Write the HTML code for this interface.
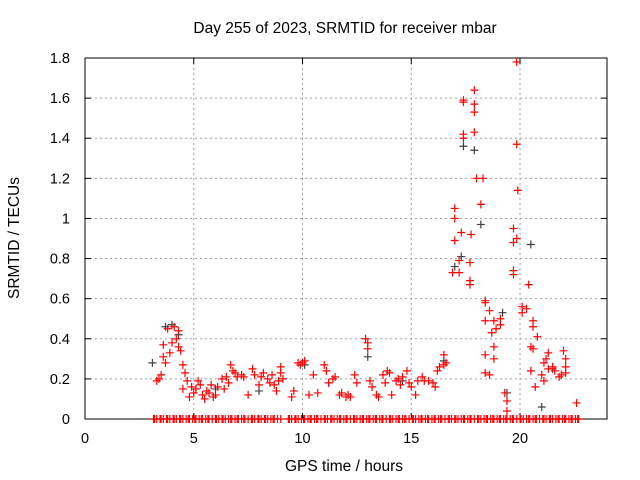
<!DOCTYPE html>
<html><head><meta charset="utf-8"><style>
body{margin:0;background:#fff}
svg{display:block;font-family:"Liberation Sans",sans-serif}
</style></head><body>
<svg id="chart" width="640" height="480">
<text x="345" y="33" font-size="15.5" text-anchor="middle">Day 255 of 2023, SRMTID for receiver mbar</text>
<text x="344" y="471" font-size="15.5" text-anchor="middle">GPS time / hours</text>
<text transform="translate(19,238) rotate(-90)" font-size="15.5" text-anchor="middle">SRMTID / TECUs</text>
<g id="grid"></g><g id="axes"></g><g id="gray"></g><g id="red"></g>
</svg>
<script>
const xTicks=[0,5,10,15,20];
const yTicks=[0,0.2,0.4,0.6,0.8,1,1.2,1.4,1.6,1.8];
const yTickLabels=["0","0.2","0.4","0.6","0.8","1","1.2","1.4","1.6","1.8"];
const redT=[3.3,3.4,3.5,3.6,3.6,3.7,3.8,3.9,4.0,4.1,4.2,4.3,4.3,4.4,4.5,4.5,4.6,4.7,4.8,4.9,5.0,5.1,5.2,5.3,5.4,5.5,5.6,5.7,5.8,5.9,6.0,6.1,6.3,6.4,6.5,6.6,6.7,6.8,6.9,7.0,7.2,7.3,7.5,7.7,7.8,8.0,8.1,8.2,8.4,8.5,8.6,8.7,8.8,8.9,9.0,9.0,9.1,9.5,9.6,9.8,9.9,10.0,10.1,10.3,10.5,10.7,11.0,11.1,11.2,11.4,11.5,11.7,11.8,12.0,12.1,12.2,12.4,12.5,12.9,13.0,13.0,13.1,13.2,13.4,13.5,13.7,13.8,13.9,14.0,14.1,14.3,14.4,14.5,14.6,14.8,14.9,15.0,15.2,15.3,15.5,15.6,15.8,16.0,16.1,16.2,16.3,16.5,16.5,16.6,
17.0,17.0,17.3,17.0,17.75,18.0,18.3,18.2,17.4,17.4,17.9,17.4,17.4,17.9,17.9,17.9,19.85,19.85,19.9,19.7,19.7,19.85,
16.9,17.2,17.2,17.7,17.7,17.7,19.7,19.7,20.4,
18.4,18.4,18.4,18.6,18.7,18.8,18.9,19.1,19.1,20.1,20.1,20.3,20.6,20.6,
18.4,18.8,18.8,20.5,20.6,20.8,21.1,21.2,21.3,22.0,22.1,
18.4,18.6,19.3,19.4,19.4,20.5,20.7,21.0,21.1,21.3,21.5,21.6,21.8,21.9,22.1,22.1,22.6];
const redV=[0.19,0.2,0.22,0.37,0.31,0.28,0.45,0.33,0.38,0.46,0.40,0.44,0.36,0.34,0.27,0.15,0.23,0.19,0.11,0.16,0.13,0.15,0.19,0.17,0.12,0.10,0.14,0.13,0.17,0.11,0.12,0.16,0.20,0.15,0.21,0.18,0.27,0.24,0.23,0.21,0.22,0.21,0.12,0.25,0.22,0.17,0.21,0.23,0.20,0.18,0.22,0.17,0.14,0.19,0.26,0.23,0.20,0.11,0.14,0.28,0.27,0.28,0.29,0.12,0.22,0.13,0.27,0.24,0.18,0.2,0.21,0.12,0.13,0.11,0.12,0.11,0.22,0.18,0.40,0.38,0.35,0.19,0.16,0.12,0.11,0.22,0.18,0.24,0.23,0.12,0.19,0.20,0.17,0.21,0.24,0.18,0.16,0.12,0.19,0.21,0.19,0.19,0.18,0.16,0.24,0.26,0.32,0.27,0.28,
1.05,1.0,0.93,0.89,0.92,1.2,1.2,1.07,1.42,1.40,1.43,1.59,1.58,1.64,1.57,1.53,1.78,1.37,1.14,0.95,0.88,0.9,
0.73,0.73,0.79,0.78,0.69,0.67,0.74,0.72,0.67,
0.59,0.58,0.49,0.54,0.43,0.49,0.45,0.50,0.47,0.56,0.53,0.55,0.49,0.46,
0.32,0.36,0.30,0.36,0.35,0.41,0.28,0.30,0.33,0.34,0.30,
0.23,0.22,0.13,0.09,0.04,0.24,0.16,0.22,0.19,0.25,0.26,0.24,0.21,0.22,0.26,0.23,0.08];
const grayT=[3.1,3.7,4.0,4.3,6.0,8.0,10.1,13.0,14.6,17.3,17.4,17.9,18.2,19.2,19.4,20.5,21.0,21.5,16.5,17.0];
const grayV=[0.28,0.46,0.47,0.42,0.15,0.14,0.27,0.31,0.19,0.81,1.36,1.34,0.97,0.53,0.13,0.87,0.06,0.25,0.29,0.76];
const zeroT=[3.15,3.3,3.45,3.6,3.75,3.9,4.05,4.2,4.35,4.5,4.65,4.8,4.95,5.1,5.25,5.4,5.55,5.7,5.85,6.0,6.15,6.3,6.45,6.6,6.75,6.9,7.05,7.2,7.35,7.5,7.65,7.8,7.95,8.1,8.25,8.4,8.55,8.7,8.85,9.0,9.35,9.5,9.65,9.8,9.95,10.1,10.25,10.4,10.55,10.7,10.85,11.0,11.15,11.3,11.45,11.6,11.75,11.9,12.05,12.2,12.35,12.5,12.65,12.8,12.95,13.1,13.25,13.4,13.55,13.7,13.85,14.0,14.15,14.3,14.45,14.6,14.75,14.9,15.05,15.2,15.35,15.5,15.65,15.8,15.95,16.1,16.25,16.4,16.55,16.7,16.85,17.0,17.15,17.3,17.45,17.6,17.75,17.9,18.05,18.2,18.35,18.5,18.65,18.8,18.95,19.1,19.25,19.4,19.55,19.7,19.85,20.0,20.15,20.3,20.45,20.6,20.75,20.9,21.05,21.2,21.35,21.5,21.65,21.8,21.95,22.1,22.25,22.4,22.55,22.7];
const zeroT2=[3.2,3.5,3.8,4.1,4.4,4.75,5.05,5.35,5.65,6.05,6.35,6.7,7.0,7.3,7.7,8.0,8.3,8.65,9.4,9.7,10.05,10.35,10.65,11.05,11.35,11.7,12.0,12.4,12.75,13.05,13.35,13.65,14.05,14.4,14.7,15.1,15.45,15.75,16.05,16.35,16.75,17.05,17.4,17.7,18.1,18.45,18.75,19.05,19.35,19.65,20.05,20.4,20.7,21.1,21.4,21.75,22.05,22.35,22.65];
const L=85,R=607,T=58,B=419,XMAX=24,YMAX=1.8;
const X=t=>L+t/XMAX*(R-L), Y=v=>B-v/YMAX*(B-T);
const NS="http://www.w3.org/2000/svg";
function mk(p,tag,a){const e=document.createElementNS(NS,tag);for(const k in a)e.setAttribute(k,a[k]);p.appendChild(e);return e;}
const grid=document.getElementById('grid'),axes=document.getElementById('axes');
xTicks.forEach(t=>{
 if(t>0){const g=mk(grid,'line',{x1:X(t),x2:X(t),y1:T,y2:B,stroke:'#a0a0a0','stroke-dasharray':'2,3'});
 }
 mk(axes,'line',{x1:X(t),x2:X(t),y1:B,y2:B-6,stroke:'#000'});
 mk(axes,'line',{x1:X(t),x2:X(t),y1:T,y2:T+6,stroke:'#000'});
 const tx=mk(axes,'text',{x:X(t),y:443,'font-size':14.5,'text-anchor':'middle'});tx.textContent=t;
 
});
yTicks.forEach((v,i)=>{
 if(v>0&&v<YMAX){const g=mk(grid,'line',{x1:L,x2:R,y1:Y(v),y2:Y(v),stroke:'#a0a0a0','stroke-dasharray':'2,3'});
 }
 mk(axes,'line',{x1:L,x2:L+6,y1:Y(v),y2:Y(v),stroke:'#000'});
 mk(axes,'line',{x1:R,x2:R-6,y1:Y(v),y2:Y(v),stroke:'#000'});
 const tx=mk(axes,'text',{x:70,y:Y(v)+5,'font-size':14.5,'text-anchor':'end'});tx.textContent=yTickLabels[i];
 
});
const fr=mk(axes,'rect',{x:L,y:T,width:R-L,height:B-T,fill:'none',stroke:'#000'});

function plus(g,t,v,c){const x=X(t),y=Y(v);
 const p=mk(g,'path',{d:`M${x-4},${y}H${x+4}M${x},${y-4}V${y+4}`,stroke:c,'stroke-width':1.2,fill:'none'});
 }
const gg=document.getElementById('gray'),rg=document.getElementById('red');
grayT.forEach((t,i)=>plus(gg,t,grayV[i],'#404040'));
redT.forEach((t,i)=>plus(rg,t,redV[i],'#ff0000'));
zeroT.forEach(t=>plus(rg,t,0,'#ff0000'));
zeroT2.forEach(t=>plus(rg,t,0,'#ff0000'));
</script>
</body></html>
